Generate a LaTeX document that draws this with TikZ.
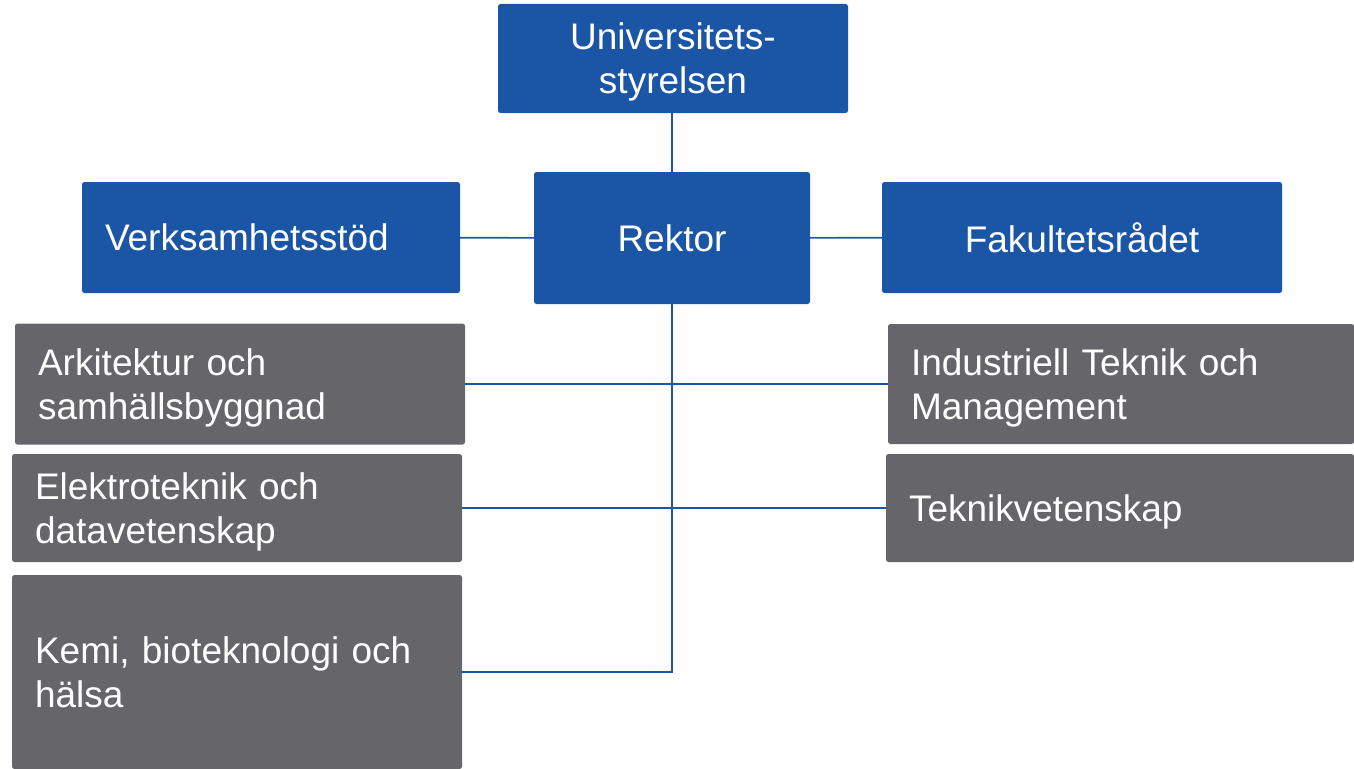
\documentclass[tikz,border=0pt]{standalone}
\usepackage{fontspec}
\setmainfont{Liberation Sans}
\definecolor{orgblue}{RGB}{27,85,165}
\definecolor{orggrey}{RGB}{101,101,106}
\tikzset{%
  bbox/.style={fill=orgblue,text=white,rounded corners=2.5,inner sep=0,font=\fontsize{37}{44}\selectfont},
  gbox/.style={fill=orggrey,text=white,rounded corners=2.5,inner ysep=0,inner xsep=23,text height=27pt,text depth=44pt,align=left,font=\fontsize{37}{44}\selectfont},
  orgline/.style={draw=orgblue,line width=1.6}
}
\begin{document}
\begin{tikzpicture}[x=1pt,y=-1pt]
    \clip (0,0) rectangle (1354,768);
    \useasboundingbox (0,0) rectangle (1354,768);
    \path
      (673,58.5) node[bbox,text depth=0pt,minimum width=350,minimum height=109,align=center] (styr) {Universitets-\\styrelsen}
      (672,238)  node[bbox,minimum width=276,minimum height=132] (rek) {Rektor}
      (271,237.5) node[bbox,inner xsep=23,text width=332,minimum height=111,align=left] (verk) {Verksamhetsstöd}
      (1082,237.5) node[bbox,minimum width=400,minimum height=111] (fak) {Fakultetsrådet};
    \path
      (240,384)  node[gbox,text width=404,minimum height=121] (ark) {Arkitektur och\\samhällsbyggnad}
      (237,508)  node[gbox,text width=404,minimum height=108] (elek) {Elektroteknik och\\datavetenskap}
      (237,672)  node[gbox,text width=404,minimum height=194] (kemi) {Kemi, bioteknologi och\\hälsa}
      (1121,384) node[gbox,text width=420,minimum height=120] (ind) {Industriell Teknik och\\Management}
      (1120,508) node[gbox,text depth=0pt,text width=422,minimum height=108] (tek) {Teknikvetenskap};
    \draw[orgline] (rek.north) -- (rek.north |- styr.south);
    \draw[orgline] (verk) -- (rek);
    \draw[orgline] (rek) -- (fak);
    \draw[orgline] (rek.south) |- (kemi.east);
    \draw[orgline] (ark.east) -- (ind.west);
    \draw[orgline] (elek.east) -- (tek.west);
  \end{tikzpicture}
\end{document}
